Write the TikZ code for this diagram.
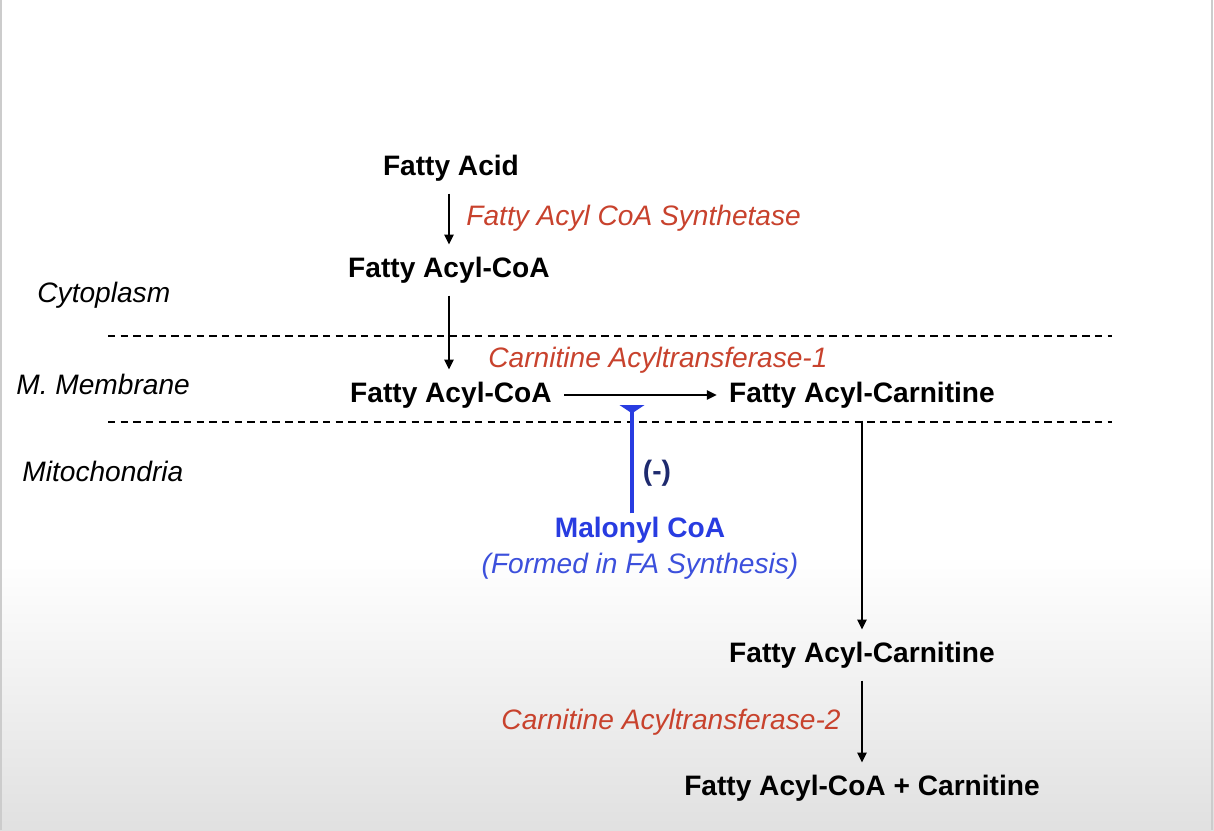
\documentclass[tikz,border=0pt]{standalone}
\usepackage{fontspec}
\setmainfont{Liberation Sans}
\usepackage{xcolor}
\usetikzlibrary{positioning, arrows.meta}

\definecolor{enzred}{RGB}{200,66,45}
\definecolor{malblue}{RGB}{40,60,225}
\definecolor{formblue}{RGB}{60,80,220}
\definecolor{inhnavy}{RGB}{30,42,110}

\begin{document}
\begin{tikzpicture}[>={Triangle[length=2.8pt,width=2.6pt]},
  cmpd/.style={font=\fontsize{8}{10}\selectfont\bfseries},
  enz/.style={font=\fontsize{8}{10}\selectfont\itshape,text=enzred},
  region/.style={font=\fontsize{8}{10}\selectfont\itshape,anchor=west},
  membline/.style={line width=0.85pt,dash pattern=on 2.1pt off 1.5pt},
  rxn/.style={->,line width=0.5pt}]
  \useasboundingbox (0,0) rectangle (12.14,8.30);
  \fill[white] (0,0) rectangle (12.14,8.30);
  \shade[top color=white,bottom color=black!12] (0,0) rectangle (12.14,2.75);
  \draw[black!20,line width=0.3pt] (0.01,0)--(0.01,8.3) (12.12,0)--(12.12,8.3);

  % compartments
  \node[region] (cytolab) at (0.25,5.35) {Cytoplasm};
  \node[region] (memlab) at (0.04,4.46) {M. Membrane};
  \node[region] (mitolab) at (0.10,3.59) {Mitochondria};
  \draw[membline] (1.08,4.94) -- (11.12,4.94);
  \draw[membline] (1.08,4.08) -- (11.12,4.08);

  % compounds
  \node[cmpd] (fa) at (4.51,6.62) {Fatty Acid};
  \node[cmpd] (cyto) at (4.49,5.60) {Fatty Acyl-CoA};
  \node[cmpd] (mcoa) at (4.51,4.35) {Fatty Acyl-CoA};
  \node[cmpd] (mcar) at (8.62,4.35) {Fatty Acyl-Carnitine};
  \node[cmpd] (car2) at (8.62,1.75) {Fatty Acyl-Carnitine};
  \node[cmpd] (prod) at (8.62,0.42) {Fatty Acyl-CoA + Carnitine};

  % enzymes
  \node[enz,anchor=west] (synth) at (4.54,6.12) {Fatty Acyl CoA Synthetase};
  \node[enz] (cat1) at (6.58,4.70) {Carnitine Acyltransferase-1};
  \node[enz,anchor=east] (cat2) at (8.53,1.08) {Carnitine Acyltransferase-2};

  % malonyl CoA
  \node[cmpd,text=malblue] (malonyl) at (6.40,3.00) {Malonyl CoA};
  \node[font=\fontsize{8}{10}\selectfont\itshape,text=formblue] (formed)
       at (6.40,2.64) {(Formed in FA Synthesis)};
  \node[cmpd,text=inhnavy] (minus) at (6.57,3.57) {(-)};
  \coordinate (inh) at (6.32,4.25);

  \draw[rxn] (fa.south -| cyto) -- (cyto.north);
  \draw[rxn] (cyto.south) -- (cyto.south |- mcoa.north);
  \draw[rxn] (mcoa) -- (mcar);
  \draw[rxn] (mcar) -- (car2);
  \draw[rxn] (car2) -- (prod);
  \draw[malblue,line width=1.4pt,shorten <=-2.5pt,
        -{Triangle[reversed,width=7pt,length=2.4pt]}]
       (inh |- malonyl.north) -- (inh);
\end{tikzpicture}
\end{document}
